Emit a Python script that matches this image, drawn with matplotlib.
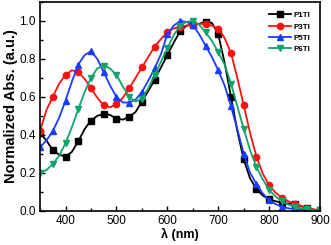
import numpy as np
import matplotlib
matplotlib.use("Agg")
import matplotlib.pyplot as plt
from matplotlib.ticker import MultipleLocator

plt.rcParams['font.family'] = ['Liberation Sans', 'DejaVu Sans']

# wavelength grid (nm), markers every second point
wavelength = np.arange(350, 900.1, 12.5)

p1ti = [0.41, 0.37, 0.32, 0.295, 0.285, 0.31, 0.365, 0.43, 0.475, 0.50,
        0.51, 0.505, 0.485, 0.48, 0.495, 0.52, 0.575, 0.63, 0.69, 0.755,
        0.82, 0.885, 0.945, 0.975, 0.98, 0.985, 0.995, 0.99, 0.93, 0.78,
        0.60, 0.42, 0.27, 0.17, 0.115, 0.08, 0.06, 0.05, 0.042, 0.038,
        0.035, 0.025, 0.012, 0.006, 0.003]

p3ti = [0.42, 0.53, 0.60, 0.67, 0.715, 0.74, 0.73, 0.695, 0.645, 0.595,
        0.555, 0.545, 0.56, 0.595, 0.645, 0.70, 0.755, 0.81, 0.865, 0.905,
        0.94, 0.96, 0.97, 0.975, 0.98, 0.985, 0.985, 0.975, 0.96, 0.91,
        0.83, 0.70, 0.555, 0.41, 0.285, 0.195, 0.135, 0.095, 0.068, 0.05,
        0.036, 0.025, 0.015, 0.006, 0.002]

p5ti = [0.335, 0.37, 0.42, 0.49, 0.58, 0.68, 0.77, 0.82, 0.84, 0.80,
        0.73, 0.66, 0.60, 0.57, 0.57, 0.585, 0.625, 0.685, 0.75, 0.825,
        0.93, 0.975, 1.0, 0.995, 0.98, 0.93, 0.87, 0.81, 0.74, 0.66,
        0.55, 0.43, 0.30, 0.20, 0.14, 0.09, 0.055, 0.035, 0.02, 0.013,
        0.008, 0.004, 0.002, 0.001, 0.0]

p6ti = [0.20, 0.215, 0.245, 0.29, 0.355, 0.44, 0.535, 0.625, 0.70, 0.75,
        0.765, 0.75, 0.715, 0.655, 0.60, 0.575, 0.59, 0.645, 0.715, 0.785,
        0.855, 0.925, 0.975, 0.995, 1.0, 0.98, 0.94, 0.895, 0.835, 0.77,
        0.67, 0.55, 0.43, 0.32, 0.23, 0.165, 0.11, 0.075, 0.05, 0.032,
        0.02, 0.013, 0.008, 0.004, 0.002]

labels = ['P1TI', 'P3TI', 'P5TI', 'P6TI']
colors = ['#000000', '#ff1010', '#1a3cff', '#10a36a']
markers = ['s', 'o', '^', 'v']

fig = plt.figure(figsize=(3.31, 2.45), dpi=100)
ax = fig.add_axes([0.121, 0.140, 0.846, 0.852])

for y, lab, c, m in zip([p1ti, p3ti, p5ti, p6ti], labels, colors, markers):
    ax.plot(wavelength, y, color=c, marker=m, markevery=2, markersize=4.5,
            linewidth=1.3, label=lab)

ax.set_xlim(350, 900)
ax.set_ylim(0, 1.1)
ax.xaxis.set_major_locator(MultipleLocator(100))
ax.xaxis.set_minor_locator(MultipleLocator(50))
ax.yaxis.set_major_locator(MultipleLocator(0.2))
ax.yaxis.set_minor_locator(MultipleLocator(0.1))
ax.tick_params(which='both', direction='in', labelsize=8.5, width=1)
ax.tick_params(which='major', length=3.5, pad=3)
ax.tick_params(which='minor', length=2)
for s in ax.spines.values():
    s.set_linewidth(1.2)

ax.set_xlabel('λ (nm)', fontsize=9, fontweight='bold', labelpad=1)
ax.set_ylabel('Normalized Abs. (a.u.)', fontsize=10.5, fontweight='bold', labelpad=1)

leg = ax.legend(loc='upper right', frameon=False, fontsize=5.8, handlelength=2.8,
                labelspacing=0.45, borderaxespad=0.8, handletextpad=0.3)
for t in leg.get_texts():
    t.set_fontweight('bold')

fig.savefig('out.png', dpi=100)
